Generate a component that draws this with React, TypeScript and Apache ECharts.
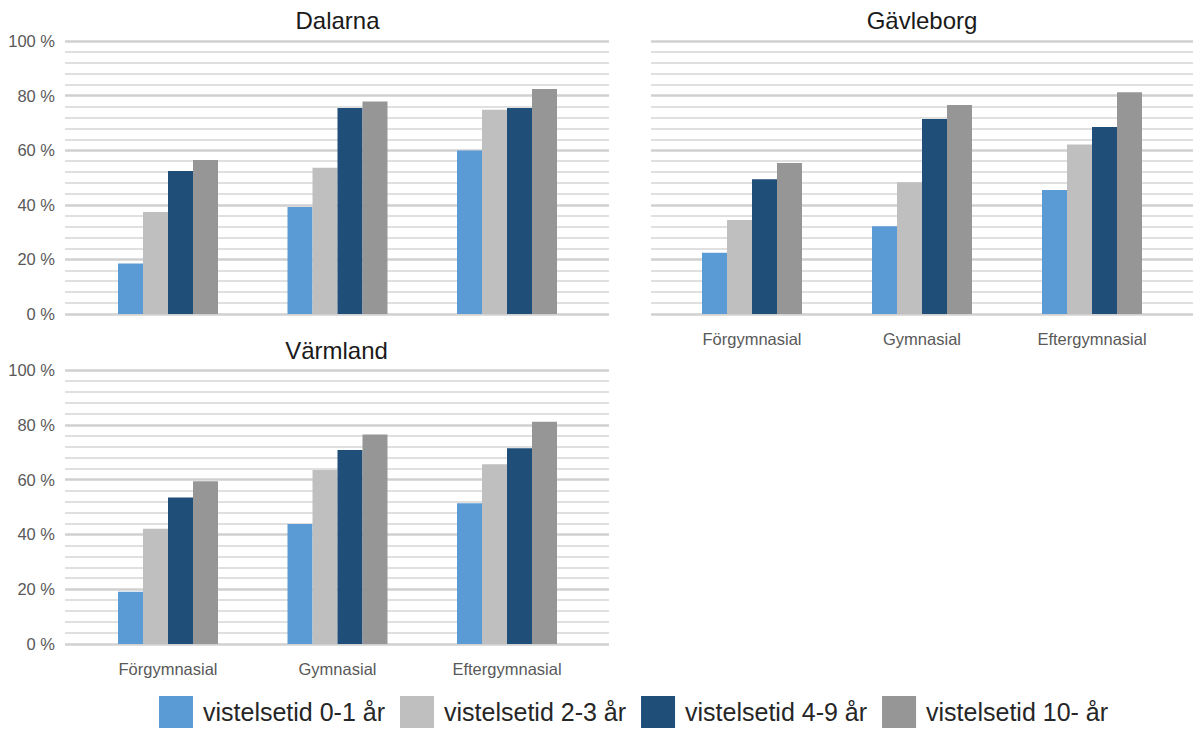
import React, { useEffect, useRef } from "react";
import * as echarts from "echarts";

const categories = ["Förgymnasial", "Gymnasial", "Eftergymnasial"];
const seriesNames = [
  "vistelsetid 0-1 år",
  "vistelsetid 2-3 år",
  "vistelsetid 4-9 år",
  "vistelsetid 10- år",
];
const colors = ["#5B9BD5", "#BFBFBF", "#1F4E79", "#969696"];
const regions = ["Dalarna", "Gävleborg", "Värmland"];

const dalarna = [
  [18.5, 39.2, 59.9],
  [37.4, 53.6, 74.8],
  [52.4, 75.5, 75.5],
  [56.4, 77.8, 82.4],
];
const gavleborg = [
  [22.4, 32.1, 45.4],
  [34.4, 48.3, 62.1],
  [49.4, 71.4, 68.5],
  [55.3, 76.6, 81.2],
];
const varmland = [
  [19.1, 43.8, 51.4],
  [42.1, 63.5, 65.6],
  [53.5, 70.8, 71.4],
  [59.4, 76.5, 81.1],
];
const yTicks = [0, 20, 40, 60, 80, 100];

export default function App() {
  const ref = useRef<HTMLDivElement>(null);
  useEffect(() => {
    if (!ref.current) return;
    const chart = echarts.init(ref.current, null, { renderer: "svg" });
    const font = "'Liberation Sans', Arial, sans-serif";
    const panelData = [dalarna, gavleborg, varmland];
    const bgGrids = [
      { left: 65, top: 41, width: 544, height: 273 },
      { left: 651, top: 41, width: 542, height: 273 },
      { left: 65, top: 370, width: 544, height: 274 },
    ];
    const barGrids = [
      { left: 83.25, top: 41, width: 508.5, height: 273 },
      { left: 667, top: 41, width: 510, height: 273 },
      { left: 83.25, top: 370, width: 508.5, height: 274 },
    ];
    const grids: any[] = [];
    const xAxes: any[] = [];
    const yAxes: any[] = [];
    const series: any[] = [];
    for (let p = 0; p < 3; p++) {
      grids.push(bgGrids[p]);
      xAxes.push({ type: "value", gridIndex: 2 * p, min: 0, max: 1, show: false });
      yAxes.push({
        type: "value",
        gridIndex: 2 * p,
        min: yTicks[0],
        max: yTicks[yTicks.length - 1],
        interval: 20,
        axisLine: { show: false },
        axisTick: { show: false },
        axisLabel: {
          show: p !== 1,
          formatter: "{value} %",
          fontFamily: font,
          fontSize: 16.5,
          color: "#595959",
          margin: 10,
        },
        splitLine: { show: true, lineStyle: { color: "#d0d0d0", width: 2.5 } },
        minorTick: { show: false, splitNumber: 5 },
        minorSplitLine: { show: true, lineStyle: { color: "#d6d6d6", width: 1.5 } },
      });
      grids.push(barGrids[p]);
      xAxes.push({
        type: "category",
        gridIndex: 2 * p + 1,
        data: categories,
        axisLine: { show: false },
        axisTick: { show: false },
        axisLabel: {
          show: p !== 0,
          fontFamily: font,
          fontSize: 16.5,
          color: "#595959",
          margin: 16,
        },
      });
      yAxes.push({
        type: "value",
        gridIndex: 2 * p + 1,
        min: 0,
        max: 100,
        show: false,
        splitLine: { show: false },
      });
      for (let s = 0; s < 4; s++) {
        series.push({
          type: "bar",
          name: seriesNames[s],
          xAxisIndex: 2 * p + 1,
          yAxisIndex: 2 * p + 1,
          data: panelData[p][s],
          barWidth: 25,
          barGap: "0%",
          itemStyle: { color: colors[s] },
        });
      }
    }
    chart.setOption({
      animation: false,
      color: colors,
      title: [
        { text: regions[0], left: 337.5, top: 8, textAlign: "center" },
        { text: regions[1], left: 922, top: 8, textAlign: "center" },
        { text: regions[2], left: 336.5, top: 338, textAlign: "center" },
      ].map((t) => ({
        ...t,
        padding: 0,
        textStyle: { fontFamily: font, fontSize: 24, fontWeight: "normal", color: "#1a1a1a" },
      })),
      legend: {
        data: seriesNames,
        left: 159,
        top: 696,
        itemWidth: 34,
        itemHeight: 32,
        itemGap: 15,
        padding: 0,
        icon: "rect",
        textStyle: { fontFamily: font, fontSize: 25, color: "#262626", padding: [0, 0, 0, 5] },
      },
      grid: grids,
      xAxis: xAxes,
      yAxis: yAxes,
      series,
    });
    return () => chart.dispose();
  }, []);
  return (
    <div
      ref={ref}
      style={{ position: "absolute", left: 0, top: 0, width: 1196, height: 729, background: "#fff" }}
    />
  );
}
